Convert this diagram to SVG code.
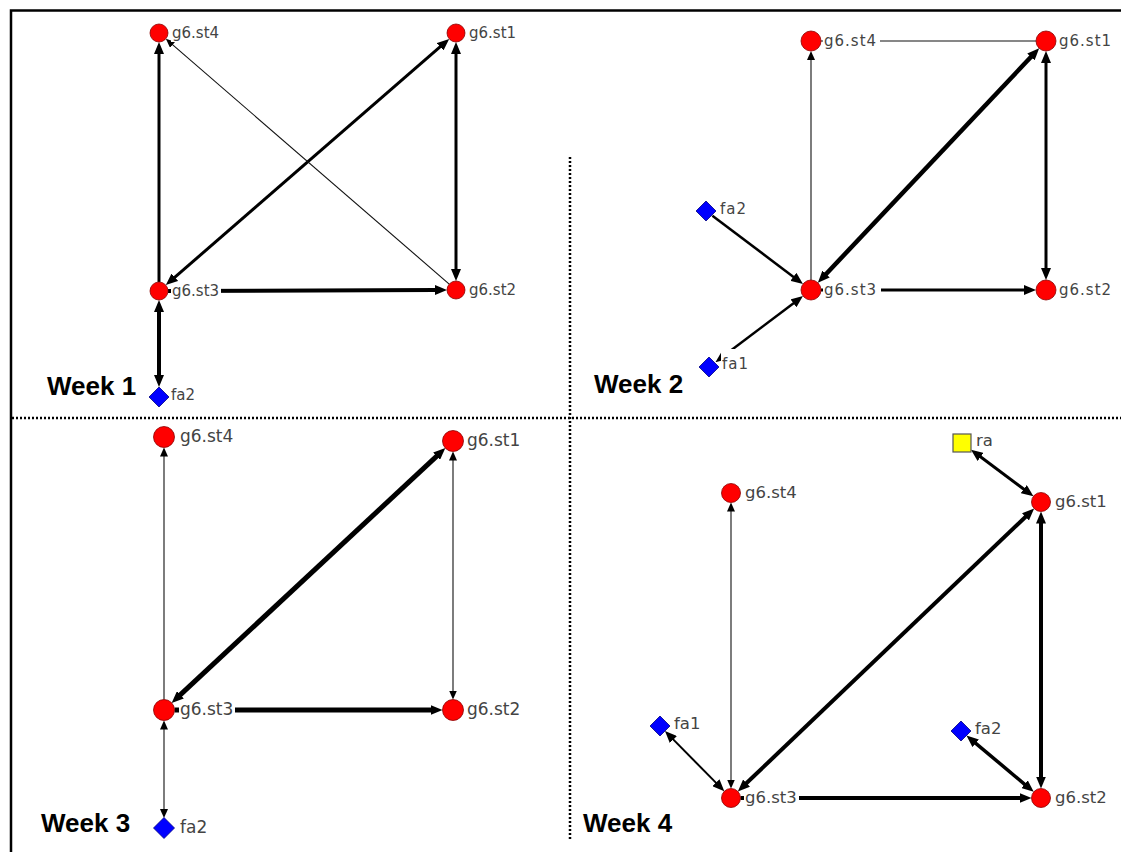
<svg xmlns="http://www.w3.org/2000/svg" width="1121" height="852" viewBox="0 0 1121 852">
<style>
.frame{fill:none;stroke:#000;stroke-width:2.5}
.dot{fill:none;stroke:#000;stroke-width:2.5;stroke-dasharray:2 2}
.e{fill:none;stroke:#000;stroke-linecap:butt}
.t{stroke-width:1.1;stroke:#111}
.st{fill:#ff0000;stroke:#8b0000;stroke-width:0.8}
.fa{fill:#0000ff;stroke:#000080;stroke-width:0.8}
.ra{fill:#ffff00;stroke:#555;stroke-width:1.2}
.bg{fill:#fff}
.lb{font-family:"DejaVu Sans",Verdana,sans-serif;fill:#444}
.l1{font-size:15px}
.l2{font-size:15px;letter-spacing:1px}
.l3{font-size:17px}
.l4{font-size:16.5px}
.wk{font-family:"Liberation Sans",Arial,sans-serif;font-weight:bold;font-size:26px;fill:#000}
</style>
<defs>
<marker id="ah" viewBox="0 0 12 10" refX="1" refY="5" markerWidth="12" markerHeight="10" markerUnits="userSpaceOnUse" orient="auto-start-reverse"><path d="M0,0 L12,5 L0,10 z" fill="#000"/></marker>
<marker id="as" viewBox="0 0 9 8" refX="1" refY="4" markerWidth="9" markerHeight="8" markerUnits="userSpaceOnUse" orient="auto-start-reverse"><path d="M0,0 L9,4 L0,8 z" fill="#000"/></marker>
</defs>

<g id="frame">
<path class="frame" d="M11,852 V10.5 H1121"/>
<path class="dot" d="M12,418 H1121"/>
<path class="dot" d="M570,157 V840"/>
</g>

<g id="connectors">
<!-- Week 1 -->
<path class="e" stroke-width="3" d="M159,282 L159,53" marker-end="url(#ah)"/>
<path class="e" stroke-width="3" d="M174.1,277.9 L440.9,46.1" marker-start="url(#ah)" marker-end="url(#ah)"/>
<path class="e t" d="M449.2,284.1 L171.9,44.1" marker-end="url(#as)"/>
<path class="e" stroke-width="3" d="M456,53 L456,270" marker-start="url(#ah)" marker-end="url(#ah)"/>
<path class="e" stroke-width="4" d="M168,291 L436,290" marker-end="url(#ah)"/>
<path class="e" stroke-width="4" d="M159,311 L159,376" marker-start="url(#ah)" marker-end="url(#ah)"/>
<!-- Week 2 -->
<path class="e t" d="M811,280 L811,59" marker-end="url(#as)"/>
<path class="e t" d="M821,41 L1036,41"/>
<path class="e" stroke-width="4.5" d="M825.4,274.7 L1031.6,56.3" marker-start="url(#ah)" marker-end="url(#ah)"/>
<path class="e" stroke-width="3" d="M1046,62 L1046,269" marker-start="url(#ah)" marker-end="url(#ah)"/>
<path class="e" stroke-width="3" d="M821,290 L1025,290" marker-end="url(#ah)"/>
<path class="e" stroke-width="2.5" d="M712.4,215.8 L794.2,277.4" marker-end="url(#ah)"/>
<path class="e" stroke-width="2.5" d="M724.2,355.6 L794.2,302.7" marker-start="url(#ah)" marker-end="url(#ah)"/>
<!-- Week 3 -->
<path class="e t" d="M164,699.5 L164,455.5" marker-end="url(#as)"/>
<path class="e" stroke-width="5" d="M179.7,695.4 L437.3,455.6" marker-start="url(#ah)" marker-end="url(#ah)"/>
<path class="e t" d="M453,459.5 L453,691.5" marker-start="url(#as)" marker-end="url(#as)"/>
<path class="e" stroke-width="5" d="M174.5,710 L431.5,710" marker-end="url(#ah)"/>
<path class="e t" d="M164,728.5 L164,810" marker-start="url(#as)" marker-end="url(#as)"/>
<!-- Week 4 -->
<path class="e t" d="M731,780.5 L731,510.5" marker-start="url(#as)" marker-end="url(#as)"/>
<path class="e" stroke-width="4" d="M745.8,783.8 L1026.2,516.2" marker-start="url(#ah)" marker-end="url(#ah)"/>
<path class="e" stroke-width="4" d="M1041,522.5 L1041,777.5" marker-start="url(#ah)" marker-end="url(#ah)"/>
<path class="e" stroke-width="4" d="M740.5,798 L1020.5,798" marker-end="url(#ah)"/>
<path class="e" stroke-width="3" d="M979.8,456.3 L1024.6,489.7" marker-start="url(#ah)" marker-end="url(#ah)"/>
<path class="e" stroke-width="2" d="M672.7,738.9 L716.6,783.4" marker-start="url(#ah)" marker-end="url(#ah)"/>
<path class="e" stroke-width="3.5" d="M974.9,742.6 L1025.3,784.8" marker-start="url(#ah)" marker-end="url(#ah)"/>
</g>

<!-- Week 1 nodes -->
<g id="w1-st4"><circle class="st" cx="159" cy="33" r="9"/><rect class="bg" x="171" y="26" width="49" height="16"/><text class="lb l1" x="172" y="38">g6.st4</text></g>
<g id="w1-st1"><circle class="st" cx="456" cy="33" r="9"/><rect class="bg" x="468" y="26" width="49" height="16"/><text class="lb l1" x="469" y="38">g6.st1</text></g>
<g id="w1-st3"><circle class="st" cx="159" cy="291" r="9"/><rect class="bg" x="171" y="284" width="50" height="16"/><text class="lb l1" x="172" y="296">g6.st3</text></g>
<g id="w1-st2"><circle class="st" cx="456" cy="290" r="9"/><rect class="bg" x="468" y="283" width="49" height="16"/><text class="lb l1" x="469" y="295">g6.st2</text></g>
<g id="w1-fa2"><polygon class="fa" points="159,387 169,397 159,407 149,397"/><rect class="bg" x="170" y="389" width="26" height="15"/><text class="lb l1" x="171" y="400">fa2</text></g>
<g id="w1-label"><text class="wk" x="47" y="395">Week 1</text></g>

<!-- Week 2 nodes -->
<g id="w2-st4"><circle class="st" cx="811" cy="41" r="10"/><rect class="bg" x="823" y="34" width="57" height="16"/><text class="lb l2" x="824" y="46">g6.st4</text></g>
<g id="w2-st1"><circle class="st" cx="1046" cy="41" r="10"/><rect class="bg" x="1058" y="34" width="56" height="16"/><text class="lb l2" x="1059" y="46">g6.st1</text></g>
<g id="w2-st3"><circle class="st" cx="811" cy="290" r="10"/><rect class="bg" x="823" y="283" width="58" height="16"/><text class="lb l2" x="824" y="295">g6.st3</text></g>
<g id="w2-st2"><circle class="st" cx="1046" cy="290" r="10"/><rect class="bg" x="1058" y="283" width="56" height="16"/><text class="lb l2" x="1059" y="295">g6.st2</text></g>
<g id="w2-fa2"><polygon class="fa" points="706,201 716,211 706,221 696,211"/><rect class="bg" x="719" y="202" width="29" height="15"/><text class="lb l2" x="720" y="214">fa2</text></g>
<g id="w2-fa1"><polygon class="fa" points="709,357 719,367 709,377 699,367"/><rect class="bg" x="721" y="349" width="30" height="23"/><text class="lb l2" x="722" y="369">fa1</text></g>
<g id="w2-label"><text class="wk" x="594" y="393">Week 2</text></g>

<!-- Week 3 nodes -->
<g id="w3-st4"><circle class="st" cx="164" cy="437" r="10.5"/><rect class="bg" x="179" y="429" width="55" height="17"/><text class="lb l3" x="180" y="442">g6.st4</text></g>
<g id="w3-st1"><circle class="st" cx="453" cy="441" r="10.5"/><rect class="bg" x="466" y="433" width="55" height="17"/><text class="lb l3" x="467" y="446">g6.st1</text></g>
<g id="w3-st3"><circle class="st" cx="164" cy="710" r="10.5"/><rect class="bg" x="179" y="702" width="56" height="17"/><text class="lb l3" x="180" y="715">g6.st3</text></g>
<g id="w3-st2"><circle class="st" cx="453" cy="710" r="10.5"/><rect class="bg" x="466" y="702" width="55" height="17"/><text class="lb l3" x="467" y="715">g6.st2</text></g>
<g id="w3-fa2"><polygon class="fa" points="164,817.5 174.5,828 164,838.5 153.5,828"/><rect class="bg" x="179" y="820" width="29" height="17"/><text class="lb l3" x="180" y="833">fa2</text></g>
<g id="w3-label"><text class="wk" x="41" y="832">Week 3</text></g>

<!-- Week 4 nodes -->
<g id="w4-ra"><rect class="ra" x="953" y="434" width="18" height="18"/><rect class="bg" x="975" y="434" width="19" height="16"/><text class="lb l4" x="976" y="446">ra</text></g>
<g id="w4-st4"><circle class="st" cx="731" cy="493" r="9.5"/><rect class="bg" x="744" y="485" width="54" height="17"/><text class="lb l4" x="745" y="498">g6.st4</text></g>
<g id="w4-st1"><circle class="st" cx="1041" cy="502" r="9.5"/><rect class="bg" x="1054" y="494" width="54" height="17"/><text class="lb l4" x="1055" y="507">g6.st1</text></g>
<g id="w4-st3"><circle class="st" cx="731" cy="798" r="9.5"/><rect class="bg" x="744" y="790" width="55" height="17"/><text class="lb l4" x="745" y="803">g6.st3</text></g>
<g id="w4-st2"><circle class="st" cx="1041" cy="798" r="9.5"/><rect class="bg" x="1054" y="790" width="54" height="17"/><text class="lb l4" x="1055" y="803">g6.st2</text></g>
<g id="w4-fa1"><polygon class="fa" points="660,716 670,726 660,736 650,726"/><rect class="bg" x="673" y="716" width="28" height="16"/><text class="lb l4" x="674" y="729">fa1</text></g>
<g id="w4-fa2"><polygon class="fa" points="961,721 971,731 961,741 951,731"/><rect class="bg" x="974" y="721" width="28" height="16"/><text class="lb l4" x="975" y="734">fa2</text></g>
<g id="w4-label"><text class="wk" x="583" y="832">Week 4</text></g>
</svg>
